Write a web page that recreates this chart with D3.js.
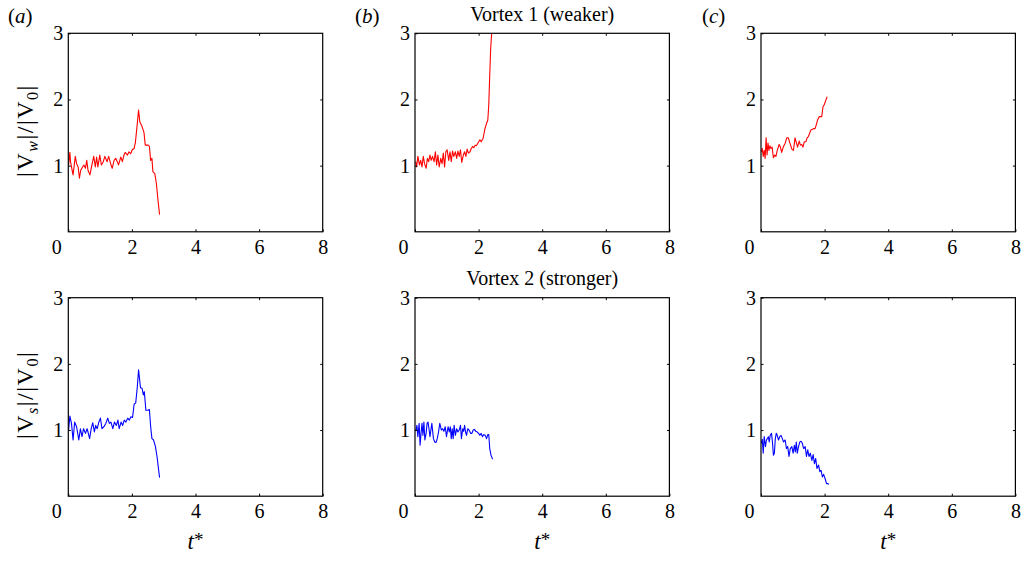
<!DOCTYPE html>
<html>
<head>
<meta charset="utf-8">
<script src="https://cdn.jsdelivr.net/npm/d3@7"></script>
<style>
  html, body { margin: 0; padding: 0; background: #fff; }
  svg text { font-family: "Liberation Serif", "Times New Roman", serif; fill: #000; }
</style>
</head>
<body>
<svg id="fig" width="1023" height="561"></svg>
<script>
// ---- data: normalised vortex speed vs non-dimensional time t* ----
// (a) weaker vortex
const tA_w = [0.01,0.05,0.07,0.10,0.15,0.22,0.26,0.31,0.35,0.39,
              0.45,0.49,0.54,0.58,0.62,0.68,0.75,0.80,0.85,0.89,
              0.93,0.99,1.04,1.10,1.15,1.22,1.27,1.33,1.38,1.44,
              1.49,1.54,1.58,1.65,1.70,1.75,1.79,1.86,1.91,1.96,
              2.01,2.07,2.11,2.16,2.21,2.25,2.32,2.38,2.42,2.51,
              2.55,2.59,2.63,2.66,2.72,2.77,2.82,2.87];
const vA_w = [1.01,1.20,1.06,0.98,0.86,1.14,1.03,0.98,0.81,0.93,
              0.98,1.01,0.96,1.08,0.93,0.86,1.03,1.14,0.98,1.13,
              0.98,1.16,1.01,1.06,1.14,1.06,1.14,1.03,0.96,1.08,
              1.11,1.06,1.01,1.13,1.06,1.16,1.20,1.16,1.21,1.18,
              1.24,1.26,1.35,1.59,1.84,1.66,1.59,1.50,1.31,1.31,
              1.29,1.08,1.11,0.91,0.88,0.73,0.48,0.26];
// (a) stronger vortex
const tA_s = [0.01,0.05,0.10,0.15,0.20,0.26,0.33,0.38,0.43,0.48,
              0.54,0.59,0.62,0.67,0.72,0.77,0.82,0.86,0.91,0.96,
              1.01,1.06,1.12,1.18,1.24,1.29,1.34,1.40,1.45,1.51,
              1.56,1.60,1.66,1.71,1.76,1.81,1.87,1.92,1.97,2.02,
              2.07,2.12,2.17,2.21,2.27,2.32,2.36,2.39,2.44,2.51,
              2.55,2.59,2.63,2.68,2.74,2.79,2.87];
const vA_s = [1.00,1.21,1.10,0.85,1.12,1.05,0.85,1.02,0.90,1.02,
              0.95,1.02,0.97,0.87,1.02,1.11,0.97,1.07,1.02,1.12,
              1.18,1.02,1.05,1.10,1.18,1.10,1.12,1.02,1.12,1.07,
              1.15,1.02,1.12,1.07,1.15,1.12,1.18,1.15,1.20,1.19,
              1.39,1.41,1.65,1.91,1.64,1.63,1.53,1.58,1.30,1.30,
              1.31,1.05,0.87,0.85,0.75,0.60,0.28];
// (b) vortex 1 (weaker)
const tB_w = [0.02,0.05,0.09,0.14,0.18,0.22,0.26,0.30,0.35,0.39,
              0.43,0.47,0.51,0.55,0.60,0.64,0.68,0.72,0.76,0.81,
              0.85,0.89,0.93,0.97,1.01,1.06,1.10,1.14,1.18,1.22,
              1.27,1.31,1.35,1.39,1.43,1.47,1.52,1.56,1.60,1.64,
              1.68,1.73,1.77,1.81,1.85,1.89,1.93,1.99,2.04,2.08,
              2.14,2.20,2.25,2.29,2.32,2.35,2.38,2.41,2.43];
const vB_w = [1.06,0.98,1.14,1.01,1.08,0.98,1.14,1.03,0.96,1.11,
              1.06,1.16,1.08,1.14,1.06,1.21,1.01,1.16,0.98,1.11,
              1.03,1.19,0.98,1.21,1.24,1.08,1.21,1.06,1.22,1.14,
              1.21,1.11,1.22,1.14,1.24,1.05,1.16,1.21,1.14,1.25,
              1.19,1.21,1.26,1.29,1.27,1.31,1.30,1.35,1.39,1.36,
              1.41,1.56,1.64,1.69,1.92,2.37,2.77,3.00,3.20];
// (b) vortex 2 (stronger)
const tB_s = [0.03,0.06,0.09,0.13,0.16,0.19,0.22,0.25,0.28,0.31,
              0.35,0.38,0.41,0.44,0.47,0.50,0.53,0.58,0.62,0.66,
              0.70,0.74,0.78,0.83,0.87,0.91,0.95,0.99,1.04,1.08,
              1.11,1.14,1.17,1.20,1.23,1.27,1.31,1.35,1.39,1.43,
              1.46,1.50,1.53,1.56,1.59,1.62,1.66,1.70,1.75,1.79,
              1.83,1.87,1.91,1.96,2.00,2.04,2.08,2.12,2.16,2.21,
              2.25,2.29,2.32,2.35,2.39,2.44];
const vB_s = [1.00,1.07,0.90,1.10,0.77,0.95,1.10,0.92,1.12,0.85,
              0.95,1.10,1.12,1.02,0.90,1.00,1.10,0.87,0.82,0.81,
              0.87,0.97,1.10,1.00,1.02,0.98,1.05,0.90,1.05,0.97,
              1.05,0.87,1.02,0.87,1.07,0.92,1.02,0.97,1.00,1.07,
              0.87,1.02,0.98,1.07,0.97,0.92,1.02,1.00,0.95,0.95,
              1.00,1.01,0.98,0.97,0.95,0.92,0.95,0.90,0.93,0.92,
              0.87,0.93,0.93,0.72,0.62,0.56];
// (c) weaker vortex
const tC_w = [0.01,0.04,0.07,0.10,0.13,0.16,0.19,0.22,0.25,0.28,
              0.31,0.35,0.39,0.43,0.47,0.51,0.57,0.61,0.65,0.70,
              0.76,0.81,0.86,0.91,0.97,1.02,1.07,1.11,1.15,1.20,
              1.24,1.28,1.32,1.36,1.41,1.45,1.49,1.53,1.57,1.62,
              1.66,1.70,1.74,1.78,1.83,1.87,1.91,1.95,1.99,2.04,
              2.08];
const vC_w = [1.21,1.26,1.14,1.23,1.11,1.42,1.16,1.34,1.23,1.30,
              1.26,1.28,1.12,1.16,1.14,1.23,1.32,1.28,1.20,1.28,
              1.34,1.42,1.42,1.34,1.25,1.23,1.42,1.35,1.28,1.37,
              1.31,1.32,1.28,1.36,1.36,1.42,1.44,1.49,1.54,1.55,
              1.56,1.56,1.62,1.69,1.74,1.74,1.74,1.89,1.92,1.99,
              2.04];
// (c) stronger vortex
const tC_s = [0.01,0.04,0.07,0.10,0.14,0.17,0.20,0.23,0.26,0.29,
              0.33,0.36,0.39,0.42,0.45,0.48,0.51,0.55,0.59,0.63,
              0.67,0.71,0.76,0.80,0.84,0.88,0.92,0.97,1.01,1.05,
              1.08,1.11,1.14,1.18,1.22,1.26,1.30,1.34,1.39,1.43,
              1.47,1.51,1.55,1.60,1.64,1.68,1.72,1.76,1.81,1.85,
              1.89,1.93,1.97,2.02,2.06,2.10,2.14];
const vC_s = [0.80,0.86,0.65,0.90,0.75,0.85,0.87,0.90,0.82,0.92,
              0.95,0.82,0.62,0.65,0.87,0.95,0.92,0.85,0.90,0.92,
              0.87,0.82,0.85,0.72,0.75,0.60,0.72,0.75,0.65,0.77,
              0.67,0.82,0.65,0.75,0.82,0.83,0.80,0.72,0.75,0.60,
              0.70,0.60,0.65,0.54,0.63,0.49,0.57,0.42,0.47,0.37,
              0.39,0.29,0.33,0.26,0.19,0.19,0.18];

const xTicks = [0, 2, 4, 6, 8];
const yTicks = [1, 2, 3];
const panelLetters = ["a", "b", "c"];
const columnTitles = ["Vortex 1 (weaker)", "Vortex 2 (stronger)"];

// ---- layout ----
const FONT = '"Liberation Serif", "Times New Roman", serif';
const svg = d3.select("#fig");
const colLeft = [68.3, 415, 761];
const rowTop = [33.3, 297.7];
const pw = 254.4, ph = 198.5;
const tickLen = 2.5;
const tickFont = 20;
const fmt = d3.format("d");

const panels = [
  {row: 0, col: 0, t: tA_w, v: vA_w, color: "#ff0000"},
  {row: 0, col: 1, t: tB_w, v: vB_w, color: "#ff0000"},
  {row: 0, col: 2, t: tC_w, v: vC_w, color: "#ff0000"},
  {row: 1, col: 0, t: tA_s, v: vA_s, color: "#0000ff"},
  {row: 1, col: 1, t: tB_s, v: vB_s, color: "#0000ff"},
  {row: 1, col: 2, t: tC_s, v: vC_s, color: "#0000ff"}
];

function styleAxis(g) {
  g.attr("font-family", FONT).attr("font-size", tickFont);
  g.select(".domain").remove();
  g.selectAll(".tick line").attr("stroke", "#000").attr("stroke-width", 1);
  g.selectAll(".tick text").attr("fill", "#000")
    .style("font-family", FONT).style("font-size", tickFont + "px");
}

panels.forEach((p, i) => {
  const x = d3.scaleLinear().domain([0, 8]).range([0, pw]);
  const y = d3.scaleLinear().domain([0, 3]).range([ph, 0]);
  const g = svg.append("g")
    .attr("transform", `translate(${colLeft[p.col]},${rowTop[p.row]})`);

  const clipId = "clip" + i;
  g.append("clipPath").attr("id", clipId)
    .append("rect").attr("width", pw).attr("height", ph);

  // data curve
  const line = d3.line().x(d => x(d[0])).y(d => y(d[1]));
  g.append("path")
    .datum(d3.zip(p.t, p.v))
    .attr("clip-path", `url(#${clipId})`)
    .attr("fill", "none")
    .attr("stroke", p.color)
    .attr("stroke-width", 1.1)
    .attr("stroke-linejoin", "round")
    .attr("d", line);

  // axes with inward ticks on all four sides
  const gx = g.append("g").attr("transform", `translate(0,${ph})`)
    .call(d3.axisBottom(x).tickValues(xTicks).tickFormat(fmt)
      .tickSizeInner(-tickLen).tickSizeOuter(0).tickPadding(8));
  styleAxis(gx);
  gx.selectAll(".tick").filter(d => d === 0).select("text").attr("x", -12);

  const gxt = g.append("g")
    .call(d3.axisTop(x).tickValues(xTicks.slice(1, -1)).tickSizeInner(-tickLen).tickSizeOuter(0).tickFormat(""));
  styleAxis(gxt);

  const gy = g.append("g")
    .call(d3.axisLeft(y).tickValues(yTicks).tickFormat(fmt)
      .tickSizeInner(-tickLen).tickSizeOuter(0).tickPadding(5));
  styleAxis(gy);

  const gyr = g.append("g").attr("transform", `translate(${pw},0)`)
    .call(d3.axisRight(y).tickValues(yTicks.slice(0, -1)).tickSizeInner(-tickLen).tickSizeOuter(0).tickFormat(""));
  styleAxis(gyr);

  // axes box
  g.append("rect")
    .attr("width", pw).attr("height", ph)
    .attr("fill", "none").attr("stroke", "#000").attr("stroke-width", 1.2);

  // x-axis label on bottom row
  if (p.row === 1) {
    const tl = g.append("text")
      .attr("x", pw / 2).attr("y", ph + 53)
      .attr("text-anchor", "middle")
      .style("font-size", "23px");
    tl.append("tspan").style("font-style", "italic").text("t");
    tl.append("tspan").attr("dy", -3).style("font-size", "19px").text("*");
  }
});

// panel letters
panelLetters.forEach((c, j) => {
  const t = svg.append("text")
    .attr("x", [8, 355, 702][j]).attr("y", 23)
    .style("font-size", "21px");
  t.append("tspan").text("(");
  t.append("tspan").style("font-style", "italic").text(c);
  t.append("tspan").text(")");
});

// column titles over the middle column
columnTitles.forEach((s, r) => {
  svg.append("text")
    .attr("x", colLeft[1] + pw / 2)
    .attr("y", rowTop[r] - 12.5)
    .attr("text-anchor", "middle")
    .style("font-size", "20px")
    .text(s);
});

// y-axis labels
[["w", rowTop[0]], ["s", rowTop[1]]].forEach(([sub, top]) => {
  const t = svg.append("text")
    .attr("transform", `translate(33,${top + ph / 2 - 2}) rotate(-90)`)
    .attr("text-anchor", "middle")
    .style("font-size", "24px")
    .style("letter-spacing", "1.5px");
  t.append("tspan").text("|V");
  t.append("tspan").attr("dy", 5).style("font-size", "16px").style("font-style", "italic").text(sub);
  t.append("tspan").attr("dy", -5).text("|/|V");
  t.append("tspan").attr("dy", 5).style("font-size", "16px").text("0");
  t.append("tspan").attr("dy", -5).text("|");
});
</script>
</body>
</html>
